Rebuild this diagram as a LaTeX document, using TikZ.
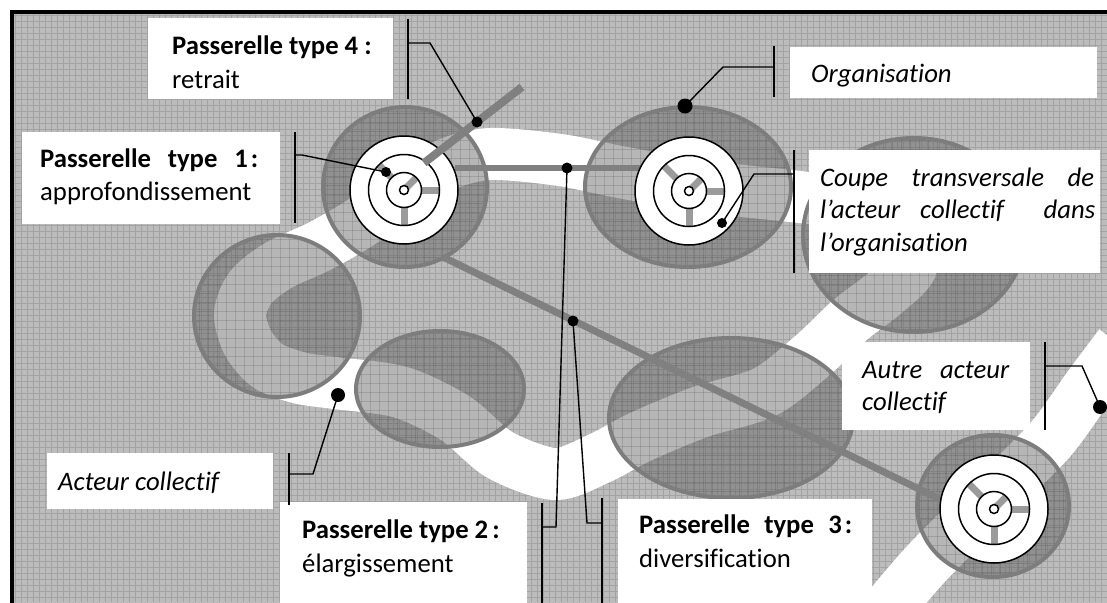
\documentclass[tikz,border=0pt]{standalone}
\usepackage{fontspec}
\setmainfont{Carlito}[Ligatures=NoCommon]
\usetikzlibrary{shapes.geometric}
\definecolor{bg}{RGB}{188,188,188}
\definecolor{bgline}{RGB}{163,163,163}
\definecolor{orgfill}{RGB}{94,94,94}
\definecolor{orgline}{RGB}{125,125,125}
\definecolor{barc}{RGB}{128,128,128}
\definecolor{spokec}{RGB}{155,155,155}
\begin{document}
\begin{tikzpicture}[x=1pt,y=-1pt,
  org/.style={ellipse, inner sep=0pt, draw=orgline, line width=4pt, fill=orgfill, fill opacity=0.45, draw opacity=1},
  bridge/.style={draw=barc, line width=7pt},
  spk/.style={draw=spokec, line width=7pt},
  ring/.style={draw=black, line width=1.5pt},
  wcirc/.style={circle, fill=white, draw=black, line width=1.5pt, minimum size=108pt, inner sep=0pt},
  wbox/.style={fill=white, draw=none, inner sep=0pt, anchor=north west},
  lab/.style={inner sep=0pt, anchor=base west, font=\fontsize{26.7pt}{32pt}\selectfont},
  call/.style={draw=black, line width=1.4pt},
  dotn/.style={circle, fill=black, inner sep=0pt, minimum size=#1},
  river/.style={draw=white, line width=52pt, line join=round}
]
\useasboundingbox (0,0) rectangle (1107,602);
\clip (0,0) rectangle (1107,602);
% background
\fill[bg] (12,12) rectangle (1120,620);
\foreach \i in {15,21,...,1107} \draw[bgline, line width=0.8pt] (\i,14) -- (\i,602);
\foreach \j in {15,21,...,602} \draw[bgline, line width=0.8pt] (14,\j) -- (1107,\j);
\draw[line width=4.5pt] (12,625) -- (12,12) -- (1120,12);
% river
\draw[river] plot[smooth cycle, tension=0.5] coordinates {
  (490,154) (560,160) (620,172) (700,186) (800,197) (862,205) (905,228)
  (912,265) (885,293) (850,320) (813,355) (765,392) (700,412) (640,437)
  (600,458) (555,474) (500,455) (455,418) (400,392) (335,383) (300,378)
  (268,366) (248,343) (240,314) (251,287) (279,265) (320,246) (363,221)
  (402,191) (445,165)};
\draw[river] plot[smooth, tension=0.5] coordinates {
  (870,630) (925,565) (990,500) (1050,440) (1090,385) (1120,345)};
% texture inside organisations
\begin{scope}
\clip (405,187) ellipse [x radius=82pt, y radius=80pt]
      (688,187) ellipse [x radius=103pt, y radius=80pt]
      (993,506) ellipse [x radius=76pt, y radius=71pt]
      (277,316) ellipse [x radius=83pt, y radius=81pt]
      (440,389) ellipse [x radius=84pt, y radius=58pt]
      (731,418) ellipse [x radius=122pt, y radius=80pt]
      (914,235) ellipse [x radius=111pt, y radius=97pt];
\foreach \i in {190,199,...,1080} \draw[black, opacity=0.16, line width=1pt] (\i,100) -- (\i,602);
\foreach \j in {104,113,...,602} \draw[black, opacity=0.16, line width=1pt] (190,\j) -- (1080,\j);
\end{scope}
% organisations
\node[org, minimum width=164pt, minimum height=160pt] (E1) at (405,187) {};
\node[org, minimum width=206pt, minimum height=160pt] (E2) at (688,187) {};
\node[org, minimum width=152pt, minimum height=142pt] (E3) at (993,506) {};
\node[org, minimum width=166pt, minimum height=162pt] (E4) at (277,316) {};
\node[org, minimum width=168pt, minimum height=116pt] (E5) at (440,389) {};
\node[org, minimum width=244pt, minimum height=160pt] (E6) at (731,418) {};
\node[org, minimum width=222pt, minimum height=194pt] (E7) at (914,235) {};
% bridges under the sections
\coordinate (b2a) at (455,168);
\coordinate (b2b) at (640,168);
\coordinate (b3a) at (443,257);
\coordinate (b3b) at (962,510);
\draw[bridge, line width=6.5pt] (b2a) -- (b2b);
\draw[bridge] (b3a) -- (b3b);
% cross sections of collective actors
\node[wcirc] (C1) at (404,190) {};
\node[wcirc] (C2) at (689,191) {};
\node[wcirc] (C3) at (994,509) {};
\foreach \c in {C1,C2,C3} {
  \draw[spk] (\c.center) ++(45:4pt) -- ++(45:13.5pt);
  \draw[spk] (\c.center) ++(135:17.5pt) -- ++(135:18pt);
  \draw[spk] (\c.center) ++(0:17.5pt) -- ++(0:18pt);
  \draw[spk] (\c.center) ++(-90:17.5pt) -- ++(-90:18pt);
  \draw[ring] (\c.center) circle[radius=35.5pt];
  \draw[ring] (\c.center) circle[radius=17.5pt];
  \draw[ring, fill=white] (\c.center) circle[radius=4.5pt];
}
% bridge type 4
\coordinate (b4a) at (424,163);
\coordinate (b4b) at (522,87);
\draw[bridge, line width=8pt] (b4a) -- (b4b);
% text boxes
\node[wbox, minimum width=245pt, minimum height=81pt] (B4) at (148,18) {};
\node[wbox, minimum width=258pt, minimum height=92pt] (B1) at (22,132) {};
\node[wbox, minimum width=307pt, minimum height=51pt] (BO) at (790,47) {};
\node[wbox, minimum width=291pt, minimum height=123pt] (BC) at (809,150) {};
\node[wbox, minimum width=226pt, minimum height=56pt] (BA) at (47,453) {};
\node[wbox, minimum width=247pt, minimum height=110pt] (B2) at (280,502) {};
\node[wbox, minimum width=254pt, minimum height=110pt] (B3) at (618,499) {};
\node[wbox, minimum width=188pt, minimum height=88pt] (BU) at (842,342) {};
% texts
\node[lab] (t4a) at (172,55) {\bfseries Passerelle type 4 :};
\node[lab] (t4b) at (172,88) {retrait};
\node[lab] (t1a) at (40,167) {\makebox[218pt][s]{\bfseries Passerelle type 1\kern3pt:}};
\node[lab] (t1b) at (40,200) {approfondissement};
\node[lab] (tO) at (811,82) {\itshape Organisation};
\node[lab] (tC1) at (820,186) {\makebox[274pt][s]{\itshape Coupe transversale de}};
\node[lab] (tC2) at (820,218) {\makebox[275pt][s]{\itshape l’acteur collectif\ \ dans}};
\node[lab] (tC3) at (820,251) {\itshape l’organisation};
\node[lab] (tA) at (58,490) {\itshape Acteur collectif};
\node[lab] (t2a) at (302,538) {\bfseries Passerelle type 2\kern4pt:};
\node[lab] (t2b) at (302,572) {élargissement};
\node[lab] (t3a) at (639,533) {\makebox[213pt][s]{\bfseries Passerelle type 3\kern3pt:}};
\node[lab] (t3b) at (639,567) {diversification};
\node[lab] (tU1) at (862,378) {\makebox[147pt][s]{\itshape Autre acteur}};
\node[lab] (tU2) at (862,410) {\itshape collectif};
% dots
\node[dotn=11pt] (d4) at (477,122) {};
\node[dotn=10pt] (d1) at (386,172) {};
\node[dotn=15pt] (dO) at (685,106) {};
\node[dotn=10pt] (dC) at (722,223) {};
\node[dotn=14pt] (dA) at (338,395) {};
\node[dotn=11pt] (d2) at (567,168) {};
\node[dotn=11pt] (d3) at (573,321) {};
\node[dotn=14pt] (dU) at (1100,407) {};
% callout brackets
\coordinate (k4t) at (408,19);  \coordinate (k4b) at (408,99);  \coordinate (k4s) at (408,43);  \coordinate (k4e) at (430,43);
\coordinate (k1t) at (295,132); \coordinate (k1b) at (295,223); \coordinate (k1s) at (295,155); \coordinate (k1e) at (302,155);
\coordinate (kOt) at (774,46);  \coordinate (kOb) at (774,97);  \coordinate (kOs) at (774,67);  \coordinate (kOe) at (723,67);
\coordinate (kCt) at (794,150); \coordinate (kCb) at (794,273); \coordinate (kCs) at (794,174); \coordinate (kCe) at (754,174);
\coordinate (kAt) at (289,453); \coordinate (kAb) at (289,505); \coordinate (kAs) at (289,474); \coordinate (kAe) at (313,474);
\coordinate (k2t) at (542,503); \coordinate (k2b) at (542,605); \coordinate (k2s) at (542,527); \coordinate (k2e) at (556,527);
\coordinate (k3t) at (602,498); \coordinate (k3b) at (602,605); \coordinate (k3s) at (602,523); \coordinate (k3e) at (587,523);
\coordinate (kUt) at (1045,342); \coordinate (kUb) at (1045,430); \coordinate (kUs) at (1045,366); \coordinate (kUe) at (1082,366);
\foreach \k/\d in {4/d4,1/d1,O/dO,C/dC,A/dA,2/d2,3/d3,U/dU} {
  \draw[call] (k\k t) -- (k\k b);
  \draw[call] (k\k s) -- (k\k e) -- (\d.center);
}
\end{tikzpicture}
\end{document}
